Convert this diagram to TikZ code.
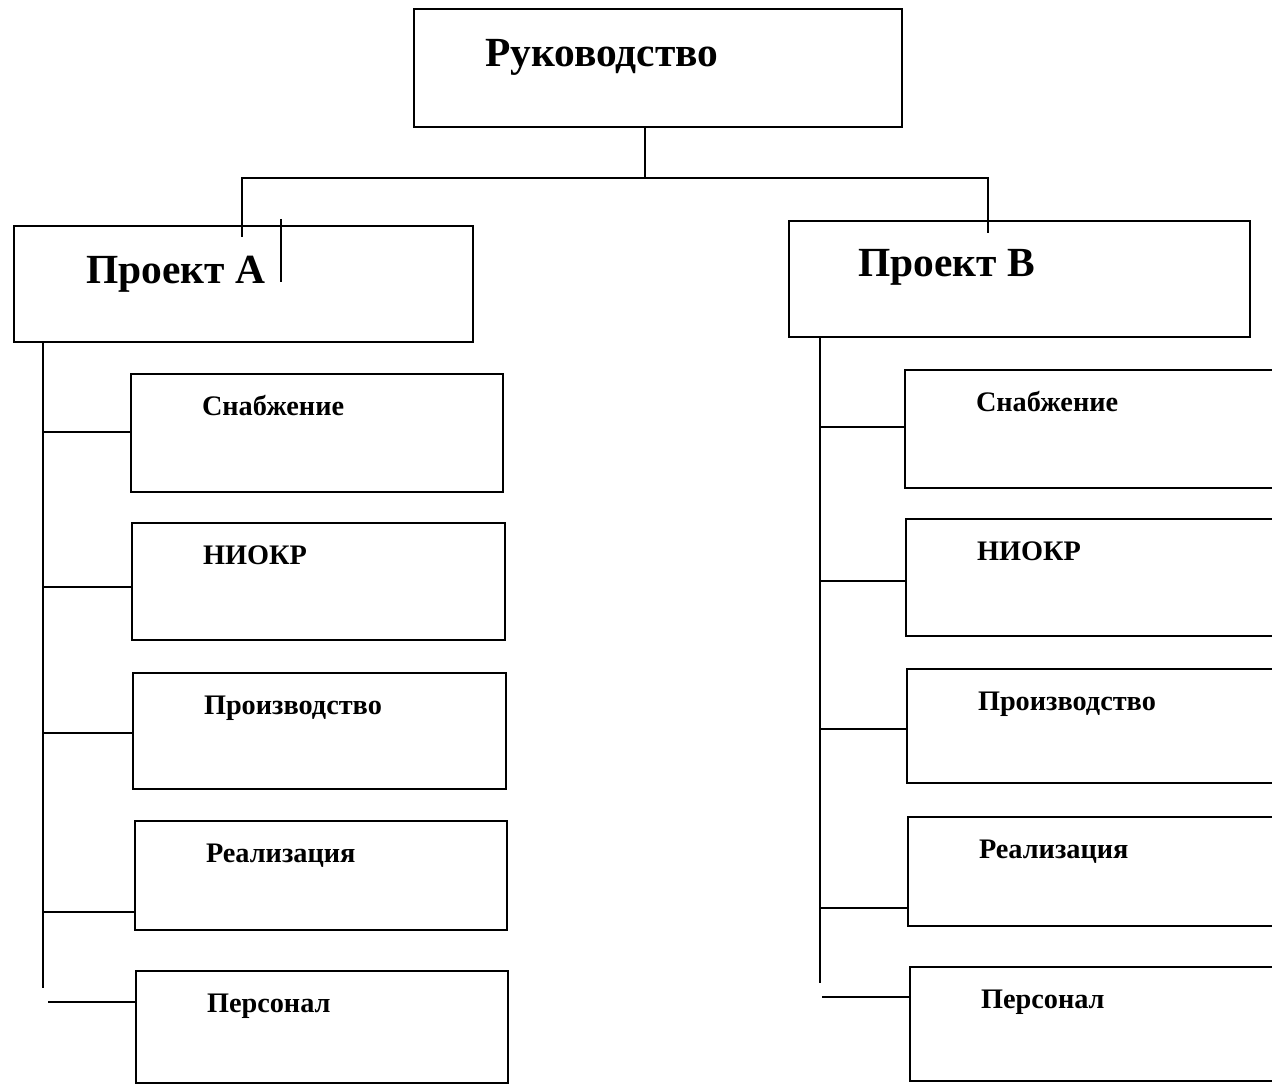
\documentclass[tikz,border=0pt]{standalone}
\usepackage{fontspec}
\setmainfont{Liberation Serif}
\usetikzlibrary{fit}

\begin{document}
\begin{tikzpicture}[x=0.02cm, y=-0.02cm, line width=1.2pt,
  box/.style={draw, inner sep=0pt},
  big/.style={font=\fontsize{23.6}{27}\selectfont\bfseries, anchor=base west, inner sep=0pt},
  small/.style={font=\fontsize{16.1}{18}\selectfont\bfseries, anchor=base west, inner sep=0pt}]
  \useasboundingbox (0,0) rectangle (1272,1084);
  % Top box
  \node[box, fit={(414,9) (902,127)}] (ruk) {};
  \node[big] (tRuk) at ([shift={(71,59)}]ruk.north west) {Руководство};
  % Projects
  \node[box, fit={(14,226) (473,342)}] (pA) {};
  \node[big] (tA) at ([shift={(72,59)}]pA.north west) {Проект А};
  \node[box, fit={(789,221) (1250,337)}] (pB) {};
  \node[big] (tB) at ([shift={(69,57)}]pB.north west) {Проект В};
  % Links from the top
  \coordinate (jTop) at (645,178);
  \draw (ruk.south -| jTop) -- (jTop);
  \draw (jTop) -| ([shift={(229,12)}]pA.north west);
  \draw (jTop) -| ([shift={(200,13)}]pB.north west);
  \draw ([shift={(268,-6)}]pA.north west) -- ++(0,63);
  % Trunks
  \draw ([shift={(30,0)}]pA.south west) -- ++(0,645);
  \draw ([shift={(32,0)}]pB.south west) -- ++(0,645);
  % Project A departments
  \foreach \i/\xl/\xr/\yt/\yb/\ys/\len/\txt in {
      1/131/503/374/492/432/87/Снабжение,
      2/132/505/523/640/587/88/НИОКР,
      3/133/506/673/789/733/89/Производство,
      4/135/507/821/930/912/91/Реализация,
      5/136/508/971/1083/1002/87/Персонал}{
    \node[box, fit={(\xl,\yt) (\xr,\yb)}] (a\i) {};
    \node[small] (ta\i) at ([shift={(71,43)}]a\i.north west) {\txt};
    \draw (a\i.west |- 0,\ys) -- ++(-\len,0);
  }
  % Project B departments
  \foreach \i/\xl/\yt/\yb/\ys/\len/\txt in {
      1/905/370/488/427/84/Снабжение,
      2/906/519/636/581/85/НИОКР,
      3/907/669/783/729/86/Производство,
      4/908/817/926/908/87/Реализация,
      5/910/967/1081/997/87/Персонал}{
    \node[box, fit={(\xl,\yt) (1290,\yb)}] (b\i) {};
    \node[small] (tb\i) at ([shift={(71,43)}]b\i.north west) {\txt};
    \draw (b\i.west |- 0,\ys) -- ++(-\len,0);
  }
\end{tikzpicture}
\end{document}
